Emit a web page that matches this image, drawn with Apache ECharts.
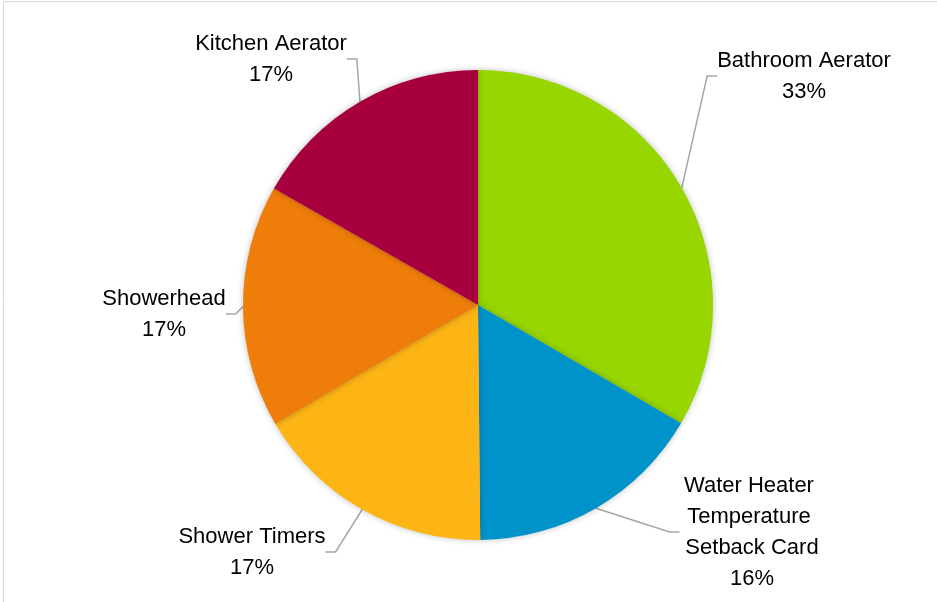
<!DOCTYPE html>
<html>
<head>
<meta charset="utf-8">
<script src="https://cdn.jsdelivr.net/npm/echarts@6/dist/echarts.min.js"></script>
<style>
html,body{margin:0;padding:0;background:#fff;}
#chart{width:937px;height:602px;}
</style>
</head>
<body>
<div id="chart"></div>
<script>
// Data (shares; labels read 33/16/17/17/17 %)
const categories = ['Bathroom Aerator', 'Water Heater Temperature Setback Card', 'Shower Timers', 'Showerhead', 'Kitchen Aerator'];
const values = [33.4, 16.45, 16.7, 16.7, 16.75];
const colors = ['#97D600', '#0093C9', '#FDB515', '#EF7D09', '#A8003E'];
// Label anchor positions (centre of each label block), in px
const labelX = [804, 752, 252, 164, 271];
const labelY = [76, 532, 552, 314, 59];

const FONT = '"Liberation Sans Narrow", "Arial Narrow", "Liberation Sans", Arial, sans-serif';

const chart = echarts.init(document.getElementById('chart'), null, {renderer: 'canvas'});
chart.setOption({
  backgroundColor: '#fff',
  animation: false,
  graphic: [{
    type: 'rect',
    shape: {x: 3.5, y: 1.5, width: 960, height: 640},
    style: {fill: 'none', stroke: '#D9D9D9', lineWidth: 1},
    silent: true
  }],
  series: [{
    type: 'pie',
    center: [478, 305],
    radius: 235,
    startAngle: 90,
    clockwise: true,
    percentPrecision: 0,
    data: categories.map((c, i) => ({
      name: c,
      value: values[i],
      itemStyle: {color: colors[i]},
      label: i === 1 ? {width: 145, overflow: 'break'} : {}
    })),
    itemStyle: {
      borderWidth: 0,
      shadowBlur: 6,
      shadowColor: 'rgba(0,0,0,0.25)'
    },
    label: {
      show: true,
      position: 'outside',
      formatter: '{b}\n{d}%',
      fontFamily: FONT,
      fontSize: 22,
      lineHeight: 31,
      color: '#000',
      align: 'center'
    },
    labelLine: {
      show: true,
      length: 20,
      length2: 10,
      lineStyle: {color: '#A6A6A6', width: 1.5}
    },
    labelLayout: function (p) {
      return {
        x: labelX[p.dataIndex],
        y: labelY[p.dataIndex],
        align: 'center',
        verticalAlign: 'middle'
      };
    }
  }]
});
</script>
</body>
</html>
